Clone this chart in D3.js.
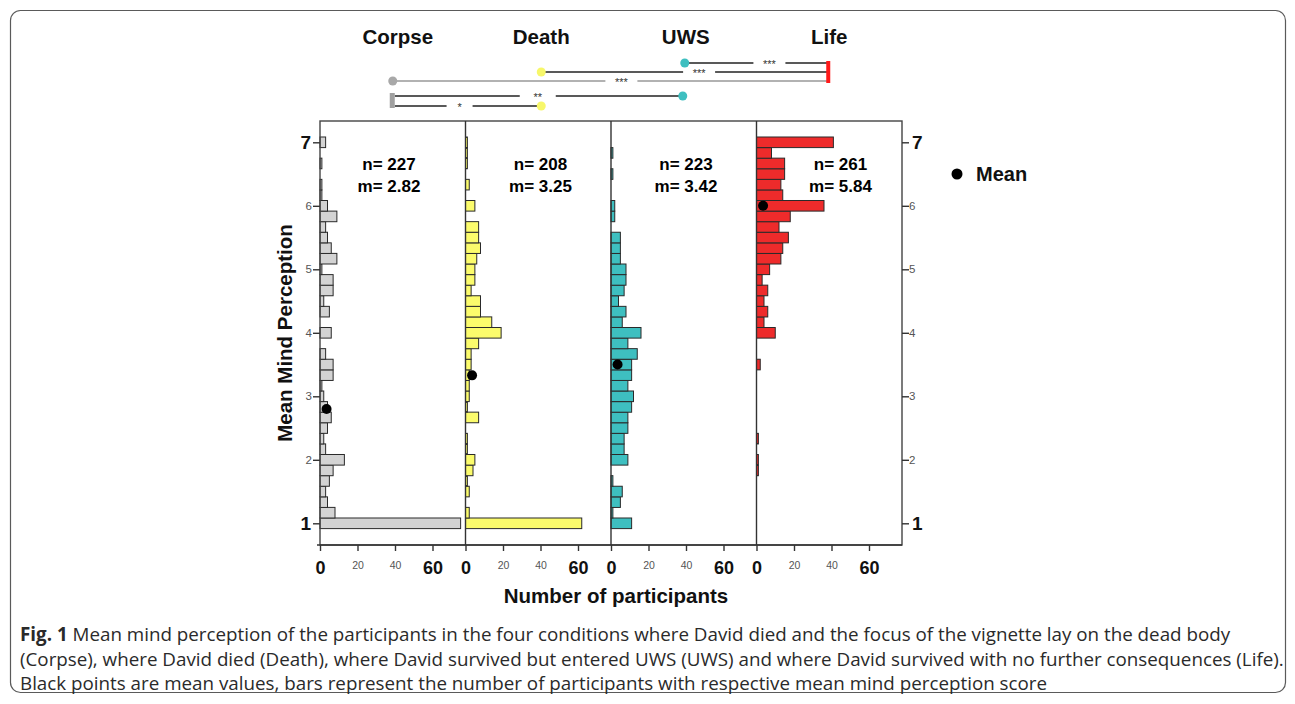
<!DOCTYPE html>
<html><head><meta charset="utf-8">
<script src="https://cdn.jsdelivr.net/npm/d3@7"></script>
<style>body{margin:0;background:#fff}svg{display:block}</style>
</head><body><svg id="c" width="1295" height="704"></svg>
<script>
// ---------------- data ----------------
const conditions = ["Corpse", "Death", "UWS", "Life"];
const scoreBins = [1, 1.167, 1.333, 1.5, 1.667, 1.833,
  2, 2.167, 2.333, 2.5, 2.667, 2.833,
  3, 3.167, 3.333, 3.5, 3.667, 3.833,
  4, 4.167, 4.333, 4.5, 4.667, 4.833,
  5, 5.167, 5.333, 5.5, 5.667, 5.833,
  6, 6.167, 6.333, 6.5, 6.667, 6.833, 7];
const corpseCounts = [75, 8, 4, 3, 5, 7, 13, 3, 2, 4, 6, 4, 2, 1, 7, 7, 3, 0, 6, 0, 5, 2, 7, 7, 1, 9, 6, 4, 3, 9, 4, 1, 1, 0, 1, 0, 3];
const deathCounts  = [62, 2, 0, 2, 1, 4, 5, 1, 1, 0, 7, 1, 2, 2, 2, 3, 3, 7, 19, 14, 8, 8, 3, 5, 5, 6, 8, 7, 7, 0, 5, 0, 2, 0, 1, 1, 1];
const uwsCounts    = [11, 1, 5, 6, 1, 0, 9, 7, 7, 9, 9, 11, 12, 9, 11, 11, 14, 9, 16, 6, 8, 4, 7, 8, 8, 5, 5, 5, 0, 2, 2, 0, 0, 1, 0, 1, 0];
const lifeCounts   = [0, 0, 0, 0, 0, 1, 1, 0, 1, 0, 0, 0, 0, 0, 0, 2, 0, 0, 10, 4, 6, 4, 6, 3, 7, 13, 14, 17, 12, 18, 36, 14, 13, 15, 15, 8, 41];
const nValues = [227, 208, 223, 261];
const mValues = ["2.82", "3.25", "3.42", "5.84"];
const meanDotValues = [2.80, 3.33, 3.50, 6.00];
const yTickValues = [1, 2, 3, 4, 5, 6, 7];
const xTickValues = [0, 20, 40, 60];
const comparisons = [
  ["UWS", "Life", "***"],
  ["Death", "Life", "***"],
  ["Corpse", "Life", "***"],
  ["Corpse", "UWS", "**"],
  ["Corpse", "Death", "*"]
];
const captionBold = "Fig. 1";
const captionLines = [
  " Mean mind perception of the participants in the four conditions where David died and the focus of the vignette lay on the dead body",
  "(Corpse), where David died (Death), where David survived but entered UWS (UWS) and where David survived with no further consequences (Life).",
  "Black points are mean values, bars represent the number of participants with respective mean mind perception score"
];

// ---------------- layout / styles ----------------
const countsByCond = [corpseCounts, deathCounts, uwsCounts, lifeCounts];
const fills = ["#d3d3d3", "#fbfb6c", "#3ebfc0", "#ee2b2b"];
const dotFills = ["#a8a8a8", "#f7f76a", "#3ebfc0", "#ee2b2b"];
const FONT = "'Liberation Sans', Arial, sans-serif";
const svg = d3.select("#c");
const plotTop = 121, plotBottom = 545, plotLeft = 320, plotRight = 902;

// caption frame
svg.append("rect").attr("x", 10.5).attr("y", 10.5).attr("width", 1275).attr("height", 682)
  .attr("rx", 10).attr("fill", "none").attr("stroke", "#5a5a5a").attr("stroke-width", 1.2);

const band = d3.scaleBand().domain(conditions).range([plotLeft, plotRight]).padding(0);
const y = d3.scaleLinear().domain([1, 7]).range([523.3, 142.3]);
const xc = d3.scaleLinear().domain([0, 77.6]).range([0, band.bandwidth()]);
const binH = y(1) - y(scoreBins[1]);

// bars
conditions.forEach((c, i) => {
  const g = svg.append("g").attr("transform", `translate(${band(c)},0)`);
  const data = scoreBins.map((v, j) => ({v, n: countsByCond[i][j]})).filter(d => d.n > 0);
  g.selectAll("rect").data(data).join("rect")
    .attr("x", 0)
    .attr("y", d => y(d.v) - binH / 2)
    .attr("width", d => xc(d.n))
    .attr("height", binH)
    .attr("fill", fills[i])
    .attr("stroke", "#2a2a2a").attr("stroke-width", 1);
  // mean dot
  g.append("circle").attr("cx", xc(3.5)).attr("cy", y(meanDotValues[i])).attr("r", 5)
    .attr("fill", "#000");
  // n / m labels
  const lx = [69, 75, 75, 84][i];
  g.append("text").attr("x", lx).attr("y", 170).attr("text-anchor", "middle")
    .attr("font-family", FONT).attr("font-weight", "bold").attr("font-size", 17)
    .text("n= " + nValues[i]);
  g.append("text").attr("x", lx).attr("y", 192).attr("text-anchor", "middle")
    .attr("font-family", FONT).attr("font-weight", "bold").attr("font-size", 17)
    .text("m= " + mValues[i]);
  // bottom axis
  const ax = svg.append("g").attr("transform", `translate(${band(c)},${plotBottom})`)
    .call(d3.axisBottom(xc).tickValues(xTickValues).tickSize(6).tickFormat(d3.format("d")));
  ax.select(".domain").remove();
  ax.selectAll(".tick line").attr("stroke", "#333").attr("stroke-width", 1.4);
  ax.selectAll(".tick text").each(function(d) {
    const big = d === 0 || d === 60;
    d3.select(this).attr("font-family", FONT)
      .attr("font-weight", big ? "bold" : "normal")
      .attr("font-size", big ? 18 : 10.5)
      .attr("fill", big ? "#111" : "#555")
      .attr("dy", null)
      .attr("y", big ? 29 : 24);
  });
});

// frame & panel separators
svg.append("rect").attr("x", plotLeft).attr("y", plotTop).attr("width", plotRight - plotLeft)
  .attr("height", plotBottom - plotTop).attr("fill", "none").attr("stroke", "#444").attr("stroke-width", 1.4);
conditions.slice(1).forEach(c => {
  svg.append("line").attr("x1", band(c)).attr("x2", band(c)).attr("y1", plotTop).attr("y2", plotBottom)
    .attr("stroke", "#333").attr("stroke-width", 1.4);
});
svg.append("line").attr("x1", 317).attr("x2", plotRight).attr("y1", plotBottom).attr("y2", plotBottom)
  .attr("stroke", "#333").attr("stroke-width", 1.6);

// y axes
function styleY(sel, side) {
  sel.select(".domain").remove();
  sel.selectAll(".tick line").attr("stroke", "#333").attr("stroke-width", 1.4);
  sel.selectAll(".tick text").each(function(d) {
    const big = d === 1 || d === 7;
    d3.select(this).attr("font-family", FONT)
      .attr("font-weight", big ? "bold" : "normal")
      .attr("font-size", big ? 19 : 11.5)
      .attr("fill", big ? "#111" : "#555")
      .attr("x", side === "left" ? (big ? -9 : -8) : (big ? 10 : 7));
  });
}
svg.append("g").attr("transform", `translate(${plotLeft},0)`)
  .call(d3.axisLeft(y).tickValues(yTickValues).tickSize(7).tickFormat(d3.format("d")))
  .call(s => styleY(s, "left"));
svg.append("g").attr("transform", `translate(${plotRight},0)`)
  .call(d3.axisRight(y).tickValues(yTickValues).tickSize(7).tickFormat(d3.format("d")))
  .call(s => styleY(s, "right"));

// axis titles
svg.append("text").attr("transform", "translate(292,333) rotate(-90)").attr("text-anchor", "middle")
  .attr("font-family", FONT).attr("font-weight", "bold").attr("font-size", 20.5).attr("fill", "#111")
  .text("Mean Mind Perception");
svg.append("text").attr("x", 616).attr("y", 603).attr("text-anchor", "middle")
  .attr("font-family", FONT).attr("font-weight", "bold").attr("font-size", 20.5).attr("fill", "#111")
  .text("Number of participants");

// condition titles
conditions.forEach((c, i) => {
  svg.append("text").attr("x", band(c) + band.bandwidth() / 2 + [5, 3, 2, 0][i]).attr("y", 44)
    .attr("text-anchor", "middle").attr("font-family", FONT).attr("font-weight", "bold")
    .attr("font-size", 20.5).attr("fill", "#111").text(c);
});

// legend
svg.append("circle").attr("cx", 957).attr("cy", 174).attr("r", 5.5).attr("fill", "#000");
svg.append("text").attr("x", 976).attr("y", 181).attr("font-family", FONT).attr("font-weight", "bold")
  .attr("font-size", 20).attr("fill", "#111").text("Mean");

// significance brackets
const sigOffset = {Corpse: 0, Death: 3, UWS: 1, Life: -1};
const sx = c => band(c) + band.bandwidth() / 2 + sigOffset[c];
const rowY = [63, 72, 81, 96, 106];
const labelFrac = [0.59, 0.55, 0.525, 0.5, 0.45];
const gapW = [32, 32, 32, 36, 26];
const lineCol = ["#222", "#222", "#999", "#222", "#222"];
comparisons.forEach(([a, b, lab], k) => {
  const x1 = sx(a), x2 = sx(b) - (k === 3 ? 2 : 0), yy = rowY[k];
  const xm = x1 + (x2 - x1) * labelFrac[k];
  const xs = a === "Corpse" && k >= 3 ? x1 + 2 : x1;
  svg.append("line").attr("x1", xs).attr("x2", xm - gapW[k] / 2).attr("y1", yy).attr("y2", yy)
    .attr("stroke", lineCol[k]).attr("stroke-width", 1.4);
  svg.append("line").attr("x1", xm + gapW[k] / 2).attr("x2", x2).attr("y1", yy).attr("y2", yy)
    .attr("stroke", lineCol[k]).attr("stroke-width", 1.4);
  svg.append("text").attr("x", xm).attr("y", yy + 5).attr("text-anchor", "middle")
    .attr("font-family", FONT).attr("font-size", 11).attr("fill", "#333").text(lab);
  // endpoint marker (non-Corpse start / end)
});
[["UWS", 0, 0], ["Death", 1, 0], ["Corpse", 2, 0], ["UWS", 3, -2], ["Death", 4, 0]].forEach(([c, k, dx]) => {
  svg.append("circle").attr("cx", sx(c) + dx).attr("cy", rowY[k]).attr("r", 4.5)
    .attr("fill", dotFills[conditions.indexOf(c)]);
});
svg.append("rect").attr("x", sx("Life") - 2).attr("y", rowY[0] - 2).attr("width", 4)
  .attr("height", rowY[2] - rowY[0] + 4).attr("fill", "#ff1a1a");
svg.append("rect").attr("x", sx("Corpse") - 3).attr("y", rowY[3] - 3).attr("width", 5)
  .attr("height", rowY[4] - rowY[3] + 5).attr("fill", "#a0a0a0");

// caption
const cap = svg.append("g").attr("font-family", "'Open Sans', 'Noto Sans', sans-serif")
  .attr("font-size", 18.8).attr("fill", "#2a2a2a");
const t0 = cap.append("text").attr("x", 20).attr("y", 641);
t0.append("tspan").attr("font-weight", "bold").text(captionBold);
t0.append("tspan").text(captionLines[0]);
cap.append("text").attr("x", 20).attr("y", 666).text(captionLines[1]);
cap.append("text").attr("x", 20).attr("y", 690).text(captionLines[2]);
</script>
</body></html>
